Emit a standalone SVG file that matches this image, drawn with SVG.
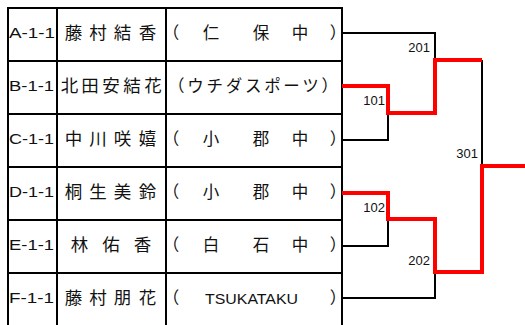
<svg xmlns="http://www.w3.org/2000/svg" width="525" height="325" viewBox="0 0 525 325">
<style>
.cell{fill:none;stroke:#000;stroke-width:2}
.code{font-family:"Liberation Sans","Noto Sans",sans-serif;font-size:14.5px;fill:#111}
.jp{font-family:"Noto Sans CJK JP","Noto Sans CJK SC",sans-serif;font-size:17.5px;fill:#111;text-anchor:middle}
.sc{font-family:"Noto Sans CJK JP","Noto Sans CJK SC",sans-serif;font-size:16.5px;fill:#111;text-anchor:middle}
.en{font-family:"Liberation Sans",sans-serif;font-size:15px;fill:#111}
.lb{font-family:"Liberation Sans",sans-serif;font-size:13px;fill:#111;text-anchor:end}
.blk{fill:none;stroke:#000;stroke-width:2}
.red{fill:none;stroke:#ff0000;stroke-width:4}
</style>
<rect width="525" height="325" fill="#fff"/>
<g id="rowA">
<rect class="cell" x="8" y="8" width="334" height="53"/>
<line class="cell" x1="57" y1="8" x2="57" y2="61"/><line class="cell" x1="166" y1="8" x2="166" y2="61"/>
<text class="code" x="9" y="38" textLength="46" lengthAdjust="spacingAndGlyphs">A-1-1</text>
<text class="jp" x="73.5 98 122.5 147.5" y="39">藤村結香</text>
<text class="sc" x="171 211 261 300 338" y="39">（仁保中）</text>
</g>
<g id="rowB">
<rect class="cell" x="8" y="61" width="334" height="53"/>
<line class="cell" x1="57" y1="61" x2="57" y2="114"/><line class="cell" x1="166" y1="61" x2="166" y2="114"/>
<text class="code" x="9" y="91" textLength="45" lengthAdjust="spacingAndGlyphs">B-1-1</text>
<text class="jp" x="69.5 90 111 132 153" y="92">北田安結花</text>
<text class="sc" x="168" y="92" style="text-anchor:start" textLength="170" lengthAdjust="spacing">（ウチダスポーツ）</text>
</g>
<g id="rowC">
<rect class="cell" x="8" y="114" width="334" height="53"/>
<line class="cell" x1="57" y1="114" x2="57" y2="167"/><line class="cell" x1="166" y1="114" x2="166" y2="167"/>
<text class="code" x="9" y="144" textLength="45" lengthAdjust="spacingAndGlyphs">C-1-1</text>
<text class="jp" x="73.5 98 122.5 147.5" y="145">中川咲嬉</text>
<text class="sc" x="171 211 261 300 338" y="145">（小郡中）</text>
</g>
<g id="rowD">
<rect class="cell" x="8" y="167" width="334" height="53"/>
<line class="cell" x1="57" y1="167" x2="57" y2="220"/><line class="cell" x1="166" y1="167" x2="166" y2="220"/>
<text class="code" x="9" y="197" textLength="45" lengthAdjust="spacingAndGlyphs">D-1-1</text>
<text class="jp" x="73.5 98 122.5 147.5" y="198">桐生美鈴</text>
<text class="sc" x="171 211 261 300 338" y="198">（小郡中）</text>
</g>
<g id="rowE">
<rect class="cell" x="8" y="220" width="334" height="53"/>
<line class="cell" x1="57" y1="220" x2="57" y2="273"/><line class="cell" x1="166" y1="220" x2="166" y2="273"/>
<text class="code" x="9" y="250" textLength="45" lengthAdjust="spacingAndGlyphs">E-1-1</text>
<text class="jp" x="79.5 111 142.5" y="251">林佑香</text>
<text class="sc" x="171 211 261 300 338" y="251">（白石中）</text>
</g>
<g id="rowF">
<rect class="cell" x="8" y="273" width="334" height="60"/>
<line class="cell" x1="57" y1="273" x2="57" y2="333"/><line class="cell" x1="166" y1="273" x2="166" y2="333"/>
<text class="code" x="9" y="303" textLength="45" lengthAdjust="spacingAndGlyphs">F-1-1</text>
<text class="jp" x="73.5 98 122.5 147.5" y="304">藤村朋花</text>
<text class="sc" x="171" y="304">（</text>
<text class="en" x="205" y="304" textLength="93" lengthAdjust="spacingAndGlyphs">TSUKATAKU</text>
<text class="sc" x="338" y="304">）</text>
</g>
<g id="connectors">
<path class="blk" d="M342,140 H388 V113"/>
<path class="blk" d="M342,33 H435 V60"/>
<path class="blk" d="M342,246 H388 V219"/>
<path class="blk" d="M342,298 H435 V272"/>
<path class="blk" d="M482,60 V166"/>
<path class="red" d="M342,86 H388 V113 H435 V60 H482"/>
<path class="red" d="M342,193 H388 V219 H435 V272 H482 V166 H525"/>
<text class="lb" x="385" y="105">101</text>
<text class="lb" x="430" y="52">201</text>
<text class="lb" x="385" y="212">102</text>
<text class="lb" x="430" y="265">202</text>
<text class="lb" x="478" y="158">301</text>
</g>
</svg>
